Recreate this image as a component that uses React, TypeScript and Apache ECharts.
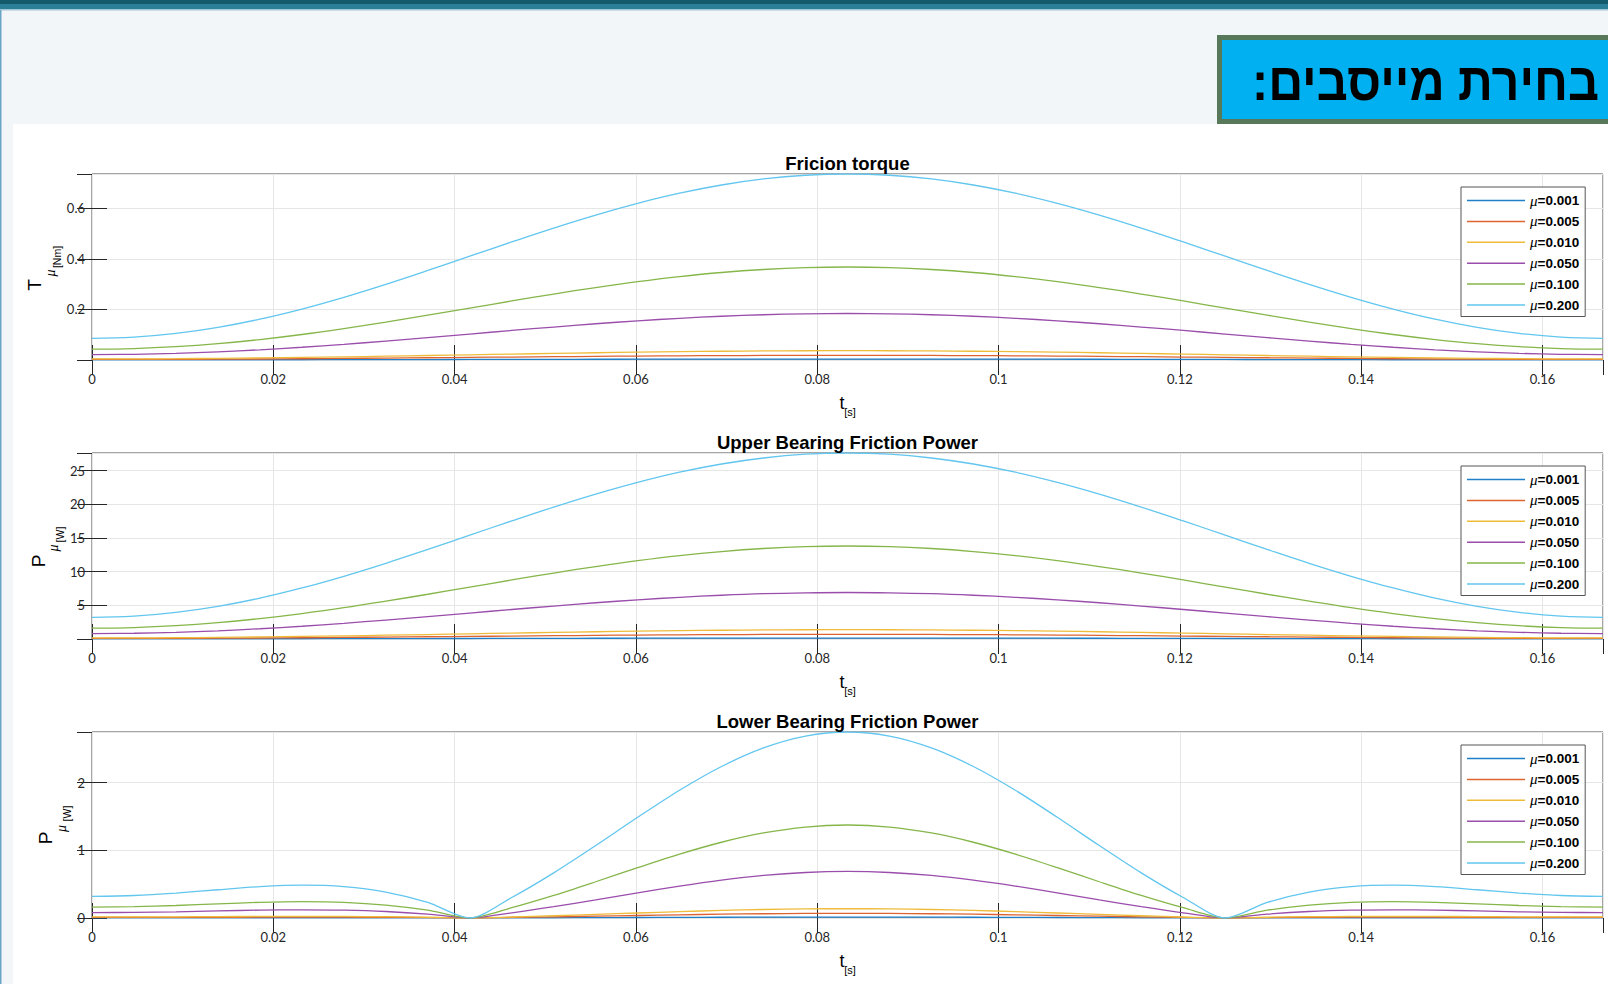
import React, { useEffect, useRef } from "react";
import * as echarts from "echarts";

// ---------- data ----------
const TIME = [
  0, 0.00463, 0.00926, 0.01389, 0.01852, 0.02315, 0.02778, 0.03241, 0.03704, 0.04167,
  0.0463, 0.05093, 0.05556, 0.06019, 0.06481, 0.06944, 0.07407, 0.0787, 0.08333,
  0.08796, 0.09259, 0.09722, 0.10185, 0.10648, 0.11111, 0.11574, 0.12037, 0.125,
  0.12963, 0.13426, 0.13889, 0.14352, 0.14815, 0.15278, 0.15741, 0.16204, 0.16667,
];

const MU_LABELS = ["μ=0.001", "μ=0.005", "μ=0.010", "μ=0.050", "μ=0.100", "μ=0.200"];

const X_TICK_STEP = 0.02;
const X_MAX = 0.16667;

// Friction torque [Nm]
const TORQUE_001 = [0.0004, 0.0005, 0.0005, 0.0006, 0.0008, 0.001, 0.0012, 0.0015, 0.0018, 0.0021, 0.0023, 0.0026, 0.0029, 0.0031, 0.0033, 0.0035, 0.0036, 0.0037, 0.0037, 0.0037, 0.0036, 0.0035, 0.0033, 0.0031, 0.0029, 0.0026, 0.0023, 0.0021, 0.0018, 0.0015, 0.0012, 0.001, 0.0008, 0.0006, 0.0005, 0.0005, 0.0004];
const TORQUE_005 = [0.0021, 0.0023, 0.0026, 0.0032, 0.004, 0.005, 0.0062, 0.0075, 0.0088, 0.0103, 0.0117, 0.013, 0.0143, 0.0155, 0.0165, 0.0173, 0.0179, 0.0183, 0.0184, 0.0183, 0.0179, 0.0173, 0.0165, 0.0155, 0.0143, 0.013, 0.0117, 0.0103, 0.0088, 0.0075, 0.0062, 0.005, 0.004, 0.0032, 0.0026, 0.0023, 0.0021];
const TORQUE_010 = [0.0043, 0.0045, 0.0053, 0.0065, 0.0081, 0.0101, 0.0124, 0.015, 0.0177, 0.0205, 0.0233, 0.0261, 0.0286, 0.031, 0.033, 0.0346, 0.0358, 0.0365, 0.0368, 0.0365, 0.0358, 0.0346, 0.033, 0.031, 0.0286, 0.0261, 0.0233, 0.0205, 0.0177, 0.015, 0.0124, 0.0101, 0.0081, 0.0065, 0.0053, 0.0045, 0.0043];
const TORQUE_050 = [0.0214, 0.0226, 0.0263, 0.0323, 0.0404, 0.0504, 0.062, 0.0748, 0.0885, 0.1026, 0.1167, 0.1303, 0.1432, 0.1548, 0.1648, 0.1729, 0.1789, 0.1825, 0.1838, 0.1825, 0.1789, 0.1729, 0.1648, 0.1548, 0.1432, 0.1303, 0.1167, 0.1026, 0.0885, 0.0748, 0.062, 0.0504, 0.0404, 0.0323, 0.0263, 0.0226, 0.0214];
const TORQUE_100 = [0.0428, 0.0452, 0.0526, 0.0645, 0.0808, 0.1008, 0.124, 0.1496, 0.177, 0.2051, 0.2333, 0.2607, 0.2863, 0.3095, 0.3295, 0.3458, 0.3577, 0.3651, 0.3675, 0.3651, 0.3577, 0.3458, 0.3295, 0.3095, 0.2863, 0.2607, 0.2333, 0.2051, 0.177, 0.1496, 0.124, 0.1008, 0.0808, 0.0645, 0.0526, 0.0452, 0.0428];
const TORQUE_200 = [0.0855, 0.0904, 0.1051, 0.129, 0.1615, 0.2015, 0.2479, 0.2992, 0.3539, 0.4103, 0.4666, 0.5213, 0.5726, 0.619, 0.659, 0.6915, 0.7154, 0.7301, 0.735, 0.7301, 0.7154, 0.6915, 0.659, 0.619, 0.5726, 0.5213, 0.4666, 0.4103, 0.3539, 0.2992, 0.2479, 0.2015, 0.1615, 0.129, 0.1051, 0.0904, 0.0855];

// Upper bearing friction power [W]
const UPPER_001 = [0.016, 0.017, 0.02, 0.024, 0.03, 0.038, 0.047, 0.056, 0.066, 0.077, 0.088, 0.098, 0.108, 0.116, 0.124, 0.13, 0.134, 0.137, 0.138, 0.137, 0.134, 0.13, 0.124, 0.116, 0.108, 0.098, 0.088, 0.077, 0.066, 0.056, 0.047, 0.038, 0.03, 0.024, 0.02, 0.017, 0.016];
const UPPER_005 = [0.08, 0.085, 0.099, 0.121, 0.152, 0.189, 0.233, 0.281, 0.332, 0.385, 0.438, 0.489, 0.538, 0.581, 0.619, 0.649, 0.672, 0.685, 0.69, 0.685, 0.672, 0.649, 0.619, 0.581, 0.538, 0.489, 0.438, 0.385, 0.332, 0.281, 0.233, 0.189, 0.152, 0.121, 0.099, 0.085, 0.08];
const UPPER_010 = [0.161, 0.17, 0.197, 0.242, 0.303, 0.378, 0.465, 0.562, 0.664, 0.77, 0.876, 0.979, 1.075, 1.162, 1.237, 1.298, 1.343, 1.371, 1.38, 1.371, 1.343, 1.298, 1.237, 1.162, 1.075, 0.979, 0.876, 0.77, 0.664, 0.562, 0.465, 0.378, 0.303, 0.242, 0.197, 0.17, 0.161];
const UPPER_050 = [0.8, 0.85, 0.99, 1.21, 1.52, 1.89, 2.33, 2.81, 3.32, 3.85, 4.38, 4.89, 5.38, 5.81, 6.19, 6.49, 6.72, 6.85, 6.9, 6.85, 6.72, 6.49, 6.19, 5.81, 5.38, 4.89, 4.38, 3.85, 3.32, 2.81, 2.33, 1.89, 1.52, 1.21, 0.99, 0.85, 0.8];
const UPPER_100 = [1.61, 1.7, 1.97, 2.42, 3.03, 3.78, 4.65, 5.62, 6.64, 7.7, 8.76, 9.79, 10.75, 11.62, 12.37, 12.98, 13.43, 13.71, 13.8, 13.71, 13.43, 12.98, 12.37, 11.62, 10.75, 9.79, 8.76, 7.7, 6.64, 5.62, 4.65, 3.78, 3.03, 2.42, 1.97, 1.7, 1.61];
const UPPER_200 = [3.21, 3.39, 3.95, 4.84, 6.06, 7.57, 9.31, 11.23, 13.29, 15.41, 17.52, 19.57, 21.5, 23.24, 24.75, 25.97, 26.86, 27.42, 27.6, 27.42, 26.86, 25.97, 24.75, 23.24, 21.5, 19.57, 17.52, 15.41, 13.29, 11.23, 9.31, 7.57, 6.06, 4.84, 3.95, 3.39, 3.21];

// Lower bearing friction power [W]
const LOWER_001 = [0.0016, 0.0017, 0.0018, 0.0021, 0.0023, 0.0024, 0.0023, 0.0019, 0.0011, 0, 0.0015, 0.0033, 0.0054, 0.0074, 0.0094, 0.0112, 0.0126, 0.0135, 0.0138, 0.0135, 0.0126, 0.0112, 0.0094, 0.0074, 0.0054, 0.0033, 0.0015, 0, 0.0011, 0.0019, 0.0023, 0.0024, 0.0023, 0.0021, 0.0018, 0.0017, 0.0016];
const LOWER_005 = [0.008, 0.008, 0.009, 0.01, 0.012, 0.012, 0.012, 0.01, 0.006, 0, 0.008, 0.017, 0.027, 0.037, 0.047, 0.056, 0.063, 0.067, 0.069, 0.067, 0.063, 0.056, 0.047, 0.037, 0.027, 0.017, 0.008, 0, 0.006, 0.01, 0.012, 0.012, 0.012, 0.01, 0.009, 0.008, 0.008];
const LOWER_010 = [0.016, 0.017, 0.018, 0.021, 0.023, 0.024, 0.023, 0.019, 0.011, 0, 0.015, 0.033, 0.054, 0.074, 0.094, 0.112, 0.126, 0.135, 0.138, 0.135, 0.126, 0.112, 0.094, 0.074, 0.054, 0.033, 0.015, 0, 0.011, 0.019, 0.023, 0.024, 0.023, 0.021, 0.018, 0.017, 0.016];
const LOWER_050 = [0.08, 0.083, 0.092, 0.105, 0.116, 0.121, 0.116, 0.096, 0.057, 0, 0.076, 0.167, 0.268, 0.372, 0.472, 0.56, 0.629, 0.673, 0.688, 0.673, 0.629, 0.56, 0.472, 0.372, 0.268, 0.167, 0.076, 0, 0.057, 0.096, 0.116, 0.121, 0.116, 0.105, 0.092, 0.083, 0.08];
const LOWER_100 = [0.16, 0.167, 0.185, 0.209, 0.232, 0.242, 0.232, 0.191, 0.115, 0, 0.152, 0.334, 0.536, 0.744, 0.944, 1.12, 1.257, 1.345, 1.375, 1.345, 1.257, 1.12, 0.944, 0.744, 0.536, 0.334, 0.152, 0, 0.115, 0.191, 0.232, 0.242, 0.232, 0.209, 0.185, 0.167, 0.16];
const LOWER_200 = [0.32, 0.333, 0.369, 0.418, 0.463, 0.485, 0.464, 0.383, 0.23, 0, 0.303, 0.667, 1.071, 1.489, 1.889, 2.24, 2.515, 2.69, 2.75, 2.69, 2.515, 2.24, 1.889, 1.489, 1.071, 0.667, 0.303, 0, 0.23, 0.383, 0.464, 0.485, 0.463, 0.418, 0.369, 0.333, 0.32];

const CHART_TITLES = ["Fricion torque", "Upper Bearing Friction Power", "Lower Bearing Friction Power"];
const Y_SYMBOLS = ["T", "P", "P"];
const Y_UNITS = ["[Nm]", "[W]", "[W]"];
const Y_MAX = [0.735, 27.6, 2.75];
const Y_TICK_STEP = [0.2, 5, 1];
const SLIDE_TITLE = "בחירת מייסבים:";

const SERIES_BY_CHART = [
  [TORQUE_001, TORQUE_005, TORQUE_010, TORQUE_050, TORQUE_100, TORQUE_200],
  [UPPER_001, UPPER_005, UPPER_010, UPPER_050, UPPER_100, UPPER_200],
  [LOWER_001, LOWER_005, LOWER_010, LOWER_050, LOWER_100, LOWER_200],
];

// ---------- styles ----------
const COLORS = ["#1f7fc8", "#dd6432", "#efbb3a", "#9a4dab", "#86b64a", "#62c6ef"];
const GRID_LEFT = 92;
const GRID_WIDTH = 1511;
const GRID_HEIGHT = 186;
const GRID_TOPS = [174, 453, 732];
const YLABEL_POS = [
  { s: [34, 285], m: [50.5, 273], u: [57, 257] },
  { s: [38.5, 561], m: [53, 548], u: [59.5, 534.5] },
  { s: [45.5, 838], m: [61, 828.5], u: [67, 813.5] },
];
const TICK_FONT = "Lato, 'Open Sans', sans-serif";
const SANS = "'Liberation Sans', Arial, sans-serif";
const SERIF = "'Liberation Serif', 'Times New Roman', serif";
const TICK_COLOR = "#262626";

export default function App() {
  const ref = useRef<HTMLDivElement>(null);

  useEffect(() => {
    if (!ref.current) return;
    document.body.style.margin = "0";
    const chart = echarts.init(ref.current, null, { renderer: "svg" });

    const grid: any[] = [];
    const xAxis: any[] = [];
    const yAxis: any[] = [];
    const series: any[] = [];
    const legend: any[] = [];
    const graphic: any[] = [];

    // slide background
    graphic.push(
      { type: "rect", z: -10, silent: true, shape: { x: 0, y: 0, width: 1608, height: 984 }, style: { fill: "#f2f6f9" } },
      { type: "rect", z: -9, silent: true, shape: { x: 0, y: 0, width: 1608, height: 4 }, style: { fill: "#135a6d" } },
      { type: "rect", z: -9, silent: true, shape: { x: 0, y: 4, width: 1608, height: 5 }, style: { fill: "#2a7e98" } },
      { type: "rect", z: -9, silent: true, shape: { x: 0, y: 9, width: 1608, height: 1.5 }, style: { fill: "#a3c6d6" } },
      { type: "rect", z: -9, silent: true, shape: { x: 0, y: 10, width: 1.5, height: 974 }, style: { fill: "#6aa5c6" } },
      { type: "rect", z: -9, silent: true, shape: { x: 13, y: 124, width: 1595, height: 860 }, style: { fill: "#ffffff" } },
      {
        type: "rect", z: -8, silent: true,
        shape: { x: 1219.5, y: 37.5, width: 420, height: 84 },
        style: { fill: "#00b0f0", stroke: "#58785a", lineWidth: 5 },
      },
      {
        type: "text", z: 20, silent: true, x: 1599, y: 82, scaleX: 0.915,
        style: {
          text: SLIDE_TITLE + "\u200F",
          fontFamily: SANS, fontWeight: "bold", fontSize: 53,
          fill: "#000", align: "right", verticalAlign: "middle",
        },
      }
    );

    GRID_TOPS.forEach((top, g) => {
      grid.push({
        left: GRID_LEFT, top, width: GRID_WIDTH, height: GRID_HEIGHT,
        show: true, borderColor: "#4d4d4d", borderWidth: 1, backgroundColor: "#fff",
        containLabel: false,
      });
      const tick = { show: true, inside: true, length: 15, lineStyle: { color: TICK_COLOR, width: 1 } };
      const split = { show: true, lineStyle: { color: "#e6e6e6", width: 1 } };
      xAxis.push({
        type: "value", gridIndex: g, position: "bottom",
        min: 0, max: X_MAX, interval: X_TICK_STEP,
        axisLine: { show: false }, axisTick: tick, splitLine: split,
        axisLabel: {
          margin: 12, fontFamily: TICK_FONT, fontSize: 13, color: TICK_COLOR,
          showMaxLabel: false,
          formatter: (v: number) => String(Math.round(v * 100) / 100),
        },
      });
      xAxis.push({
        type: "value", gridIndex: g, position: "top",
        min: 0, max: X_MAX, interval: X_TICK_STEP,
        axisLine: { show: false }, axisTick: tick, splitLine: { show: false },
        axisLabel: { show: false },
      });
      yAxis.push({
        type: "value", gridIndex: g, position: "left",
        min: 0, max: Y_MAX[g], interval: Y_TICK_STEP[g],
        axisLine: { show: false }, axisTick: tick, splitLine: split,
        axisLabel: {
          margin: 7, fontFamily: TICK_FONT, fontSize: 13, color: TICK_COLOR,
          showMaxLabel: false, showMinLabel: g === 2,
        },
      });
      yAxis.push({
        type: "value", gridIndex: g, position: "right",
        min: 0, max: Y_MAX[g], interval: Y_TICK_STEP[g],
        axisLine: { show: false }, axisTick: tick, splitLine: { show: false },
        axisLabel: { show: false },
      });

      SERIES_BY_CHART[g].forEach((vals, i) => {
        series.push({
          type: "line", name: MU_LABELS[i],
          xAxisIndex: g * 2, yAxisIndex: g * 2,
          data: TIME.map((t, k) => [t, vals[k]]),
          symbol: "none", showSymbol: false,
          smooth: g === 2 ? 0.28 : 0.4,
          silent: true,
          lineStyle: { width: 1.3, color: COLORS[i] },
          itemStyle: { color: COLORS[i] },
          emphasis: { disabled: true },
        });
      });

      legend.push({
        data: MU_LABELS, orient: "vertical",
        left: 1461, top: top + 13,
        padding: [6, 6, 4, 6], itemGap: 5.9,
        itemWidth: 58, itemHeight: 1.5, icon: "rect",
        backgroundColor: "#fff", borderColor: "#555", borderWidth: 1,
        selectedMode: false,
        formatter: (name: string) => `{m|μ}{v|${name.slice(1)}}`,
        textStyle: {
          rich: {
            m: { fontFamily: SERIF, fontStyle: "italic", fontSize: 15, lineHeight: 14, color: "#000" },
            v: { fontFamily: SANS, fontWeight: "bold", fontSize: 13.5, lineHeight: 14, color: "#000" },
          },
        },
      });

      const cx = GRID_LEFT + GRID_WIDTH / 2;
      const bottom = top + GRID_HEIGHT;
      graphic.push(
        {
          type: "text", z: 20, silent: true, x: cx, y: top - 10.5,
          style: { text: CHART_TITLES[g], fontFamily: SANS, fontWeight: "bold", fontSize: 18.5, fill: "#000", align: "center", verticalAlign: "middle" },
        },
        {
          type: "text", z: 20, silent: true, x: 842, y: bottom + 43,
          style: { text: "t", fontFamily: SANS, fontSize: 18, fill: "#000", align: "center", verticalAlign: "middle" },
        },
        {
          type: "text", z: 20, silent: true, x: 850, y: bottom + 52,
          style: { text: "[s]", fontFamily: SANS, fontSize: 11, fill: "#000", align: "center", verticalAlign: "middle" },
        },
        {
          type: "text", z: 20, silent: true, x: YLABEL_POS[g].s[0], y: YLABEL_POS[g].s[1], rotation: Math.PI / 2,
          style: { text: Y_SYMBOLS[g], fontFamily: SANS, fontSize: 19, fill: "#000", align: "center", verticalAlign: "middle" },
        },
        {
          type: "text", z: 20, silent: true, x: YLABEL_POS[g].m[0], y: YLABEL_POS[g].m[1], rotation: Math.PI / 2,
          style: { text: "μ", fontFamily: SERIF, fontStyle: "italic", fontSize: 14, fill: "#000", align: "center", verticalAlign: "middle" },
        },
        {
          type: "text", z: 20, silent: true, x: YLABEL_POS[g].u[0], y: YLABEL_POS[g].u[1], rotation: Math.PI / 2,
          style: { text: Y_UNITS[g], fontFamily: SANS, fontSize: 10.5, fill: "#000", align: "center", verticalAlign: "middle" },
        }
      );
    });

    chart.setOption({
      animation: false,
      grid, xAxis, yAxis, series, legend, graphic,
      tooltip: { show: false },
    });

    return () => chart.dispose();
  }, []);

  return (
    <div
      ref={ref}
      style={{ position: "absolute", left: 0, top: 0, width: 1608, height: 984 }}
    />
  );
}
